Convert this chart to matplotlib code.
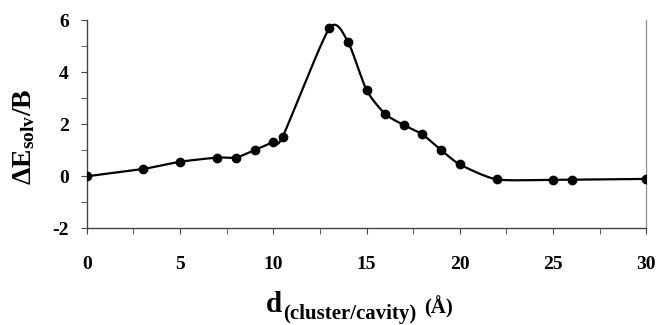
import numpy as np
import matplotlib
matplotlib.use("Agg")
import matplotlib.pyplot as plt
from matplotlib.ticker import MultipleLocator

d_values = [0, 3, 5, 7, 8, 9, 10, 10.5, 13, 14, 15, 16, 17, 18, 19, 20, 22, 25, 26, 30]
dE_values = [0.0, 0.28, 0.56, 0.72, 0.72, 1.01, 1.32, 1.52, 5.69, 5.18, 3.32, 2.40,
             1.97, 1.61, 1.01, 0.46, -0.12, -0.13, -0.13, -0.1]
x_ticks = [0, 5, 10, 15, 20, 25, 30]
y_ticks = [-2, 0, 2, 4, 6]

plt.rcParams['font.family'] = ['Liberation Serif', 'DejaVu Serif']
plt.rcParams['font.weight'] = 'bold'
plt.rcParams['axes.unicode_minus'] = False
plt.rcParams['mathtext.fontset'] = 'custom'
plt.rcParams['mathtext.rm'] = 'Liberation Serif:bold'
plt.rcParams['mathtext.bf'] = 'Liberation Serif:bold'
plt.rcParams['mathtext.it'] = 'Liberation Serif:bold'


def smooth(x, y, n=30, t=0.35):
    x = np.asarray(x, float); y = np.asarray(y, float)
    px = np.concatenate([[x[0]], x, [x[-1]]])
    py = np.concatenate([[y[0]], y, [y[-1]]])
    xs, ys = [], []
    for i in range(1, len(px) - 2):
        p0 = np.array([px[i - 1], py[i - 1]]); p1 = np.array([px[i], py[i]])
        p2 = np.array([px[i + 1], py[i + 1]]); p3 = np.array([px[i + 2], py[i + 2]])
        c1 = p1 + (p2 - p0) * t / 3
        c2 = p2 - (p3 - p1) * t / 3
        s = np.linspace(0, 1, n)[:, None]
        b = (1 - s) ** 3 * p1 + 3 * (1 - s) ** 2 * s * c1 + 3 * (1 - s) * s ** 2 * c2 + s ** 3 * p2
        xs.extend(b[:, 0]); ys.extend(b[:, 1])
    return np.array(xs), np.array(ys)


fig = plt.figure(figsize=(6.58, 3.25), dpi=100)
ax = fig.add_axes([0.132, 0.2975, 0.85, 0.64])

sx, sy = smooth(d_values, dE_values)
ax.plot(sx, sy, color='black', lw=1.6, zorder=2)
ax.plot(d_values, dE_values, 'o', color='black', ms=6, zorder=3)

ax.set_xlim(0, 30)
ax.set_ylim(-2, 6)
ax.set_xticks(x_ticks)
ax.xaxis.set_minor_locator(MultipleLocator(2.5))
ax.set_yticks(y_ticks)
ax.yaxis.set_minor_locator(MultipleLocator(1))

ax.spines['top'].set_visible(False)
ax.spines['right'].set_color('#999999')
ax.spines['left'].set_color('#444444')
ax.spines['bottom'].set_color('#444444')
for s in ['left', 'bottom', 'right']:
    ax.spines[s].set_linewidth(1.0)

ax.tick_params(axis='x', which='both', direction='out', length=4, color='#444444',
               labelsize=14, pad=16)
ax.tick_params(axis='y', which='both', direction='out', length=4, color='#444444',
               labelsize=14, pad=9)
for lab in ax.get_xticklabels() + ax.get_yticklabels():
    lab.set_fontweight('bold')

ax.set_ylabel(r'$\Delta\mathbf{E}_{\mathbf{solv}}\mathbf{/B}$', fontsize=20)
ax.yaxis.set_label_coords(-0.089, 0.44)

fig.text(266 / 658, 1 - 312 / 325, 'd', fontsize=21, fontweight='bold',
         ha='left', va='baseline')
fig.text(283 / 658, 1 - 319 / 325, '(cluster/cavity)', fontsize=15, fontweight='bold',
         ha='left', va='baseline')
fig.text(424 / 658, 1 - 313 / 325, '(Å)', fontsize=15, fontweight='bold',
         ha='left', va='baseline')

fig.savefig('out.png', dpi=100)
